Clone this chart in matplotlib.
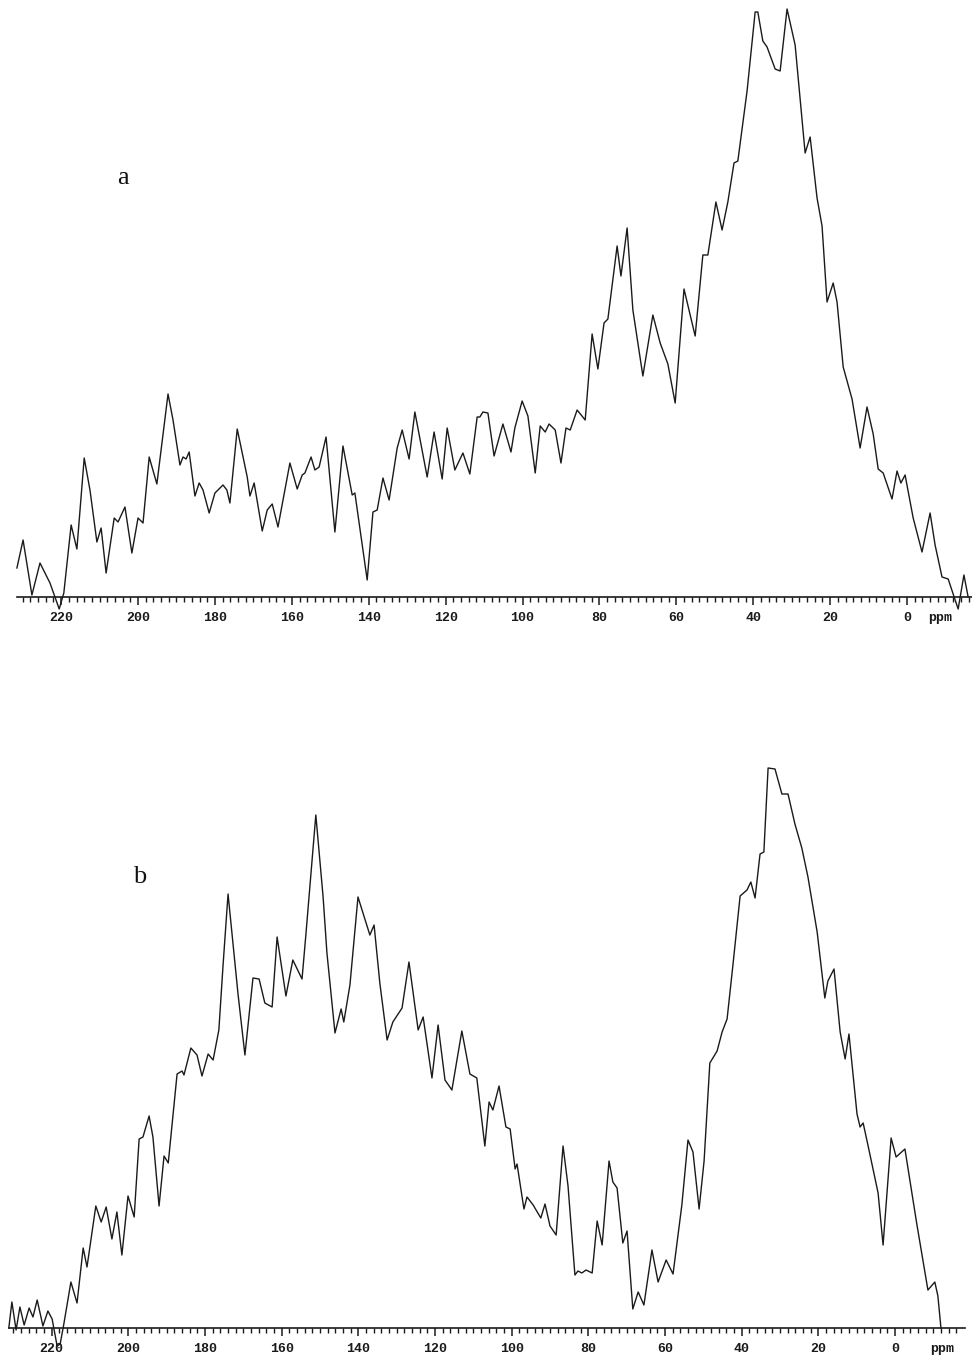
import numpy as np
import matplotlib.pyplot as plt

# 13C NMR spectra, two samples (a, b); chemical shift in ppm, intensity in arb. units
ppm_a = [231.5, 229.9, 227.6, 225.5, 222.9, 220.5, 219.3, 217.4, 215.9, 214.0,
         212.5, 210.7, 209.6, 208.3, 206.2, 205.2, 203.4, 201.6, 200.0, 198.7,
         197.1, 195.1, 192.2, 190.9, 189.1, 188.3, 187.5, 186.7, 185.2, 184.1,
         183.1, 181.5, 180.0, 177.9, 176.9, 176.1, 174.2, 171.6, 170.9, 169.8,
         167.7, 166.4, 165.1, 163.6, 160.5, 158.6, 157.3, 156.6, 155.0, 154.0,
         152.9, 151.1, 148.8, 146.7, 144.3, 143.6, 140.4, 138.9, 137.8, 136.3,
         134.7, 132.6, 131.3, 129.5, 128.0, 124.8, 123.0, 120.9, 119.6, 117.6,
         115.5, 113.7, 111.8, 111.1, 110.3, 109.0, 107.4, 105.1, 103.0, 102.0,
         100.1, 98.6, 96.7, 95.4, 94.1, 93.1, 91.5, 90.0, 88.7, 87.6,
         85.8, 83.7, 81.9, 80.4, 78.8, 77.8, 75.4, 74.4, 72.8, 71.3,
         68.7, 66.1, 64.2, 62.2, 60.3, 58.0, 55.1, 53.1, 51.8, 49.7,
         48.1, 46.6, 45.0, 44.0, 41.6, 39.5, 38.8, 37.5, 36.4, 34.3,
         33.0, 31.2, 29.1, 26.5, 25.2, 23.4, 22.1, 20.8, 19.2, 18.2,
         16.6, 14.3, 12.2, 10.4, 8.8, 7.5, 6.2, 3.9, 2.6, 1.6,
         0.5, -1.6, -3.9, -6.0, -7.3, -9.1, -10.7, -13.3, -14.8, -15.9]
int_a = [29, 57, 2, 34, 14, -12, 4, 72, 48, 139,
         107, 55, 69, 24, 79, 75, 90, 44, 79, 74,
         140, 113, 203, 177, 132, 140, 138, 145, 101, 114,
         107, 84, 104, 112, 107, 94, 168, 120, 101, 114,
         66, 87, 93, 70, 134, 108, 122, 124, 140, 127,
         130, 160, 65, 151, 102, 104, 17, 85, 87, 119,
         97, 149, 167, 138, 185, 120, 165, 118, 169, 127,
         144, 123, 180, 180, 185, 184, 141, 173, 145, 169,
         196, 181, 124, 171, 165, 173, 167, 134, 169, 167,
         187, 177, 263, 228, 274, 278, 351, 321, 369, 287,
         221, 282, 254, 233, 194, 308, 261, 342, 342, 395,
         367, 395, 434, 436, 506, 585, 585, 556, 550, 528,
         526, 588, 552, 444, 460, 399, 371, 295, 314, 295,
         230, 198, 149, 190, 163, 128, 124, 98, 126, 114,
         122, 79, 45, 84, 52, 20, 18, -12, 22, 0]

ppm_b = [231.2, 230.4, 229.3, 228.3, 227.2, 225.9, 224.9, 223.8, 222.3, 221.0,
         219.9, 218.6, 217.8, 216.8, 215.0, 213.4, 211.8, 210.8, 208.5, 207.1,
         205.8, 204.3, 203.0, 201.7, 200.1, 198.5, 197.2, 196.2, 194.6, 193.6,
         192.0, 190.7, 189.6, 187.3, 186.0, 185.5, 183.7, 182.1, 180.8, 179.2,
         177.9, 176.4, 175.3, 174.0, 172.7, 171.4, 169.6, 167.5, 165.9, 164.4,
         162.5, 161.2, 158.9, 157.1, 154.7, 153.7, 151.1, 149.2, 148.2, 146.1,
         144.5, 143.8, 142.2, 140.1, 138.3, 137.0, 135.9, 134.4, 132.5, 131.0,
         128.6, 126.8, 124.4, 123.1, 120.8, 119.2, 117.4, 115.6, 113.0, 110.9,
         109.1, 107.0, 105.9, 104.9, 103.3, 101.5, 100.4, 99.1, 98.6, 96.8,
         96.0, 94.4, 92.4, 91.3, 90.0, 88.4, 86.6, 85.3, 83.5, 82.7,
         81.7, 80.6, 79.0, 77.7, 76.4, 74.6, 73.6, 72.5, 71.0, 69.9,
         68.4, 67.0, 65.5, 63.4, 61.8, 59.7, 57.9, 55.6, 54.0, 52.7,
         51.1, 49.8, 48.3, 46.4, 45.1, 43.8, 42.3, 40.4, 38.6, 37.6,
         36.5, 35.2, 34.2, 33.1, 31.3, 29.5, 27.9, 26.1, 24.3, 22.7,
         20.3, 18.3, 17.5, 15.9, 14.3, 13.0, 12.0, 9.9, 9.1, 8.3,
         7.0, 4.4, 3.1, 1.0, -0.3, -2.6, -5.7, -8.6, -10.4, -11.2,
         -12.0]
int_b = [0, 26, -2, 21, 3, 20, 11, 28, 2, 17,
         9, -18, -16, 5, 46, 25, 80, 61, 122, 106,
         121, 89, 116, 73, 132, 111, 189, 191, 212, 191,
         122, 172, 165, 254, 257, 253, 280, 273, 252, 274,
         268, 298, 363, 434, 384, 334, 273, 350, 349, 325,
         321, 391, 332, 368, 349, 393, 513, 431, 375, 295,
         319, 306, 343, 431, 409, 393, 403, 345, 288, 306,
         320, 366, 298, 311, 250, 303, 248, 238, 297, 254,
         250, 182, 226, 218, 242, 201, 199, 159, 164, 119,
         131, 123, 110, 124, 102, 93, 182, 142, 53, 57,
         55, 58, 55, 107, 83, 167, 146, 140, 85, 97,
         19, 36, 23, 78, 46, 68, 54, 123, 188, 176,
         119, 167, 265, 277, 296, 309, 362, 432, 438, 446,
         430, 474, 476, 560, 559, 534, 534, 504, 480, 451,
         396, 330, 347, 359, 296, 269, 294, 214, 201, 205,
         182, 135, 83, 190, 171, 179, 104, 38, 46, 32,
         0]

major_ticks = list(range(0, 221, 20))

W, H = 972, 1357
fig = plt.figure(figsize=(W / 100, H / 100), dpi=100)
fig.patch.set_facecolor('white')


def draw_panel(rect, xlim, ylim, bounds, ppm, inten, letter, letter_xy, unit_x):
    ax = fig.add_axes(rect)
    ax.plot(ppm, inten, color='#1a1a1a', lw=1.0, solid_joinstyle='round')
    ax.set_xlim(*xlim)
    ax.set_ylim(*ylim)
    for s in ['top', 'left', 'right']:
        ax.spines[s].set_visible(False)
    sp = ax.spines['bottom']
    sp.set_position(('data', 0))
    sp.set_bounds(*bounds)
    sp.set_linewidth(1.2)
    sp.set_color('#1a1a1a')
    ax.set_yticks([])
    ax.set_xticks(major_ticks)
    ax.set_xticklabels([str(t) for t in major_ticks])
    ax.set_xticks(np.arange(-16, 231, 2), minor=True)
    ax.tick_params(axis='x', which='major', direction='out', length=6, width=1.1,
                   color='#1a1a1a', pad=5)
    ax.tick_params(axis='x', which='minor', direction='out', length=3.5, width=1.0,
                   color='#1a1a1a')
    for lab in ax.get_xticklabels():
        lab.set_fontfamily('Liberation Mono')
        lab.set_fontweight('bold')
        lab.set_fontsize(9.5)
        lab.set_color('#1a1a1a')
    # unit label in line with the tick labels
    ax.annotate('ppm', xy=(unit_x, 0), xycoords='data',
                xytext=(0, -15), textcoords='offset points', ha='center', va='center',
                family='Liberation Mono', fontweight='bold', fontsize=9.5, color='#1a1a1a')
    ax.text(letter_xy[0], letter_xy[1], letter, transform=fig.transFigure,
            family='Liberation Serif', fontsize=19, ha='center', va='center', color='#111111')
    return ax


# panel a occupies pixel rows 0..640, baseline at row 597
draw_panel([0, 1 - 640 / H, 1, 640 / H], (235.9, -16.9), (-43, 597), (231.5, -17.0),
           ppm_a, int_a, 'a', (123 / W, 1 - 178 / H), -8.6)
# panel b occupies pixel rows 690..1357, baseline at row 1328
draw_panel([0, 0, 1, 667 / H], (233.5, -20.1), (-29, 638), (231.2, -18.3),
           ppm_b, int_b, 'b', (140 / W, 1 - 877 / H), -12.3)

fig.savefig('out.png', dpi=100, facecolor='white')
